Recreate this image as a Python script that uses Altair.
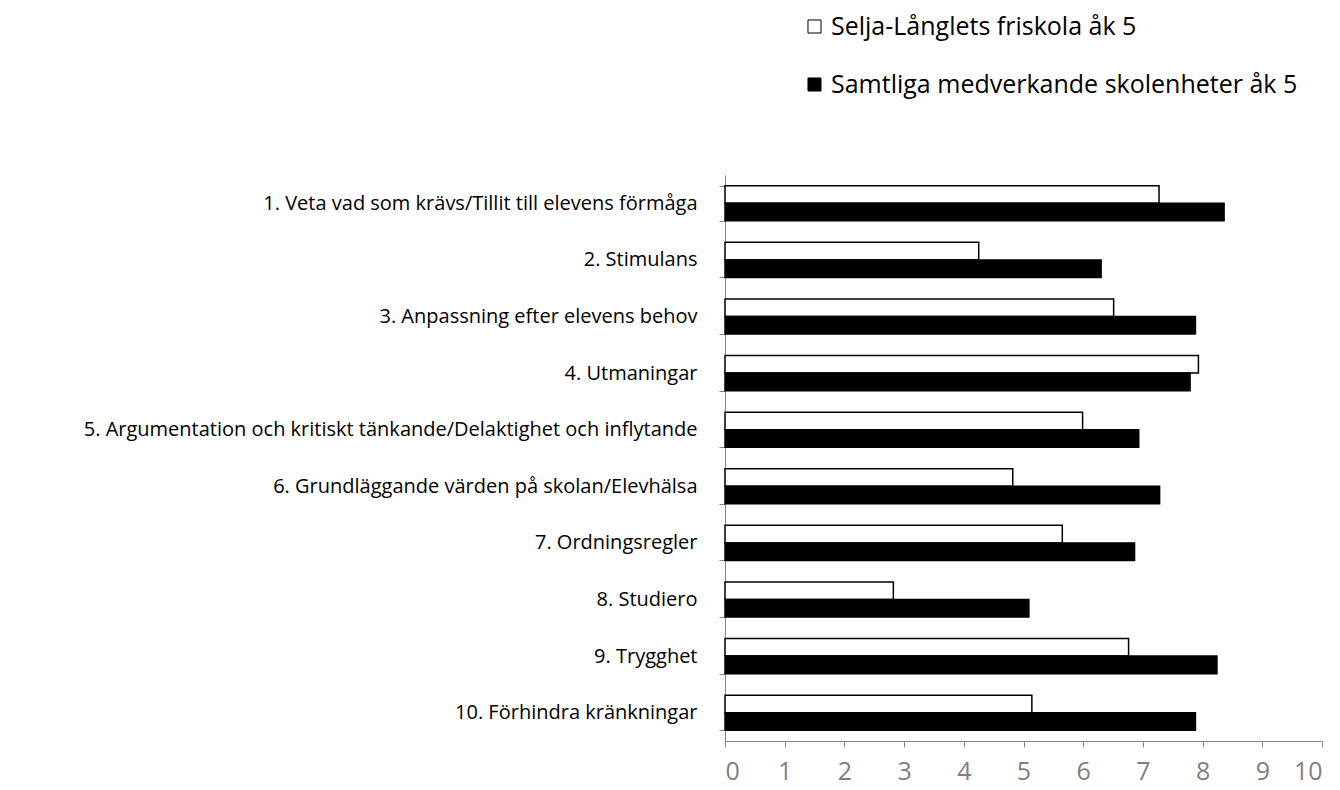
import altair as alt
import pandas as pd

categories = [
    "1. Veta vad som krävs/Tillit till elevens förmåga",
    "2. Stimulans",
    "3. Anpassning efter elevens behov",
    "4. Utmaningar",
    "5. Argumentation och kritiskt tänkande/Delaktighet och inflytande",
    "6. Grundläggande värden på skolan/Elevhälsa",
    "7. Ordningsregler",
    "8. Studiero",
    "9. Trygghet",
    "10. Förhindra kränkningar",
]
series_names = ["Selja-Långlets friskola åk 5", "Samtliga medverkande skolenheter åk 5"]
selja = [7.27, 4.25, 6.51, 7.93, 5.99, 4.82, 5.65, 2.82, 6.76, 5.14]
samtliga = [8.36, 6.30, 7.88, 7.79, 6.93, 7.28, 6.86, 5.09, 8.24, 7.88]
x_ticks = [0, 1, 2, 3, 4, 5, 6, 7, 8, 9, 10]

rows = []
for c, a, b in zip(categories, selja, samtliga):
    rows.append({"Kategori": c, "Serie": series_names[0], "Värde": a})
    rows.append({"Kategori": c, "Serie": series_names[1], "Värde": b})
df = pd.DataFrame(rows)

FONT = "Open Sans"
GRAY = "#868686"

chart = alt.Chart(df).mark_bar(stroke="black", strokeWidth=1.5).encode(
    y=alt.Y(
        "Kategori:N",
        sort=categories,
        title=None,
        scale=alt.Scale(paddingInner=0.38, paddingOuter=0.19),
        axis=alt.Axis(
            tickBand="extent",
            domainColor=GRAY,
            tickColor=GRAY,
            tickSize=6,
            labelFont=FONT,
            labelFontSize=20,
            labelColor="#000000",
            labelLimit=800,
            labelPadding=22,
        ),
    ),
    yOffset=alt.YOffset("Serie:N", sort=series_names),
    x=alt.X(
        "Värde:Q",
        title=None,
        scale=alt.Scale(domain=[0, 10], nice=False),
        axis=alt.Axis(
            values=x_ticks,
            format="d",
            grid=False,
            domainColor=GRAY,
            tickColor=GRAY,
            tickSize=6,
            labelFont=FONT,
            labelFontSize=25,
            labelColor="#7f7f7f",
            labelPadding=12,
        ),
    ),
    fill=alt.Fill(
        "Serie:N",
        sort=series_names,
        scale=alt.Scale(domain=series_names, range=["#ffffff", "#000000"]),
        legend=alt.Legend(
            title=None,
            orient="none",
            legendX=77,
            legendY=-161,
            direction="vertical",
            symbolType="square",
            symbolSize=170,
            symbolStrokeColor="black",
            symbolStrokeWidth=1,
            labelFont=FONT,
            labelFontSize=25,
            labelColor="#000000",
            labelLimit=800,
            rowPadding=32,
            labelOffset=4,
        ),
    ),
).properties(
    width=597,
    height=566,
    autosize=alt.AutoSizeParams(type="none"),
    padding={"left": 717, "top": 167, "right": 10, "bottom": 48},
).configure_view(stroke=None)

chart.save("out.html", embed_options={"renderer": "svg", "actions": False})
